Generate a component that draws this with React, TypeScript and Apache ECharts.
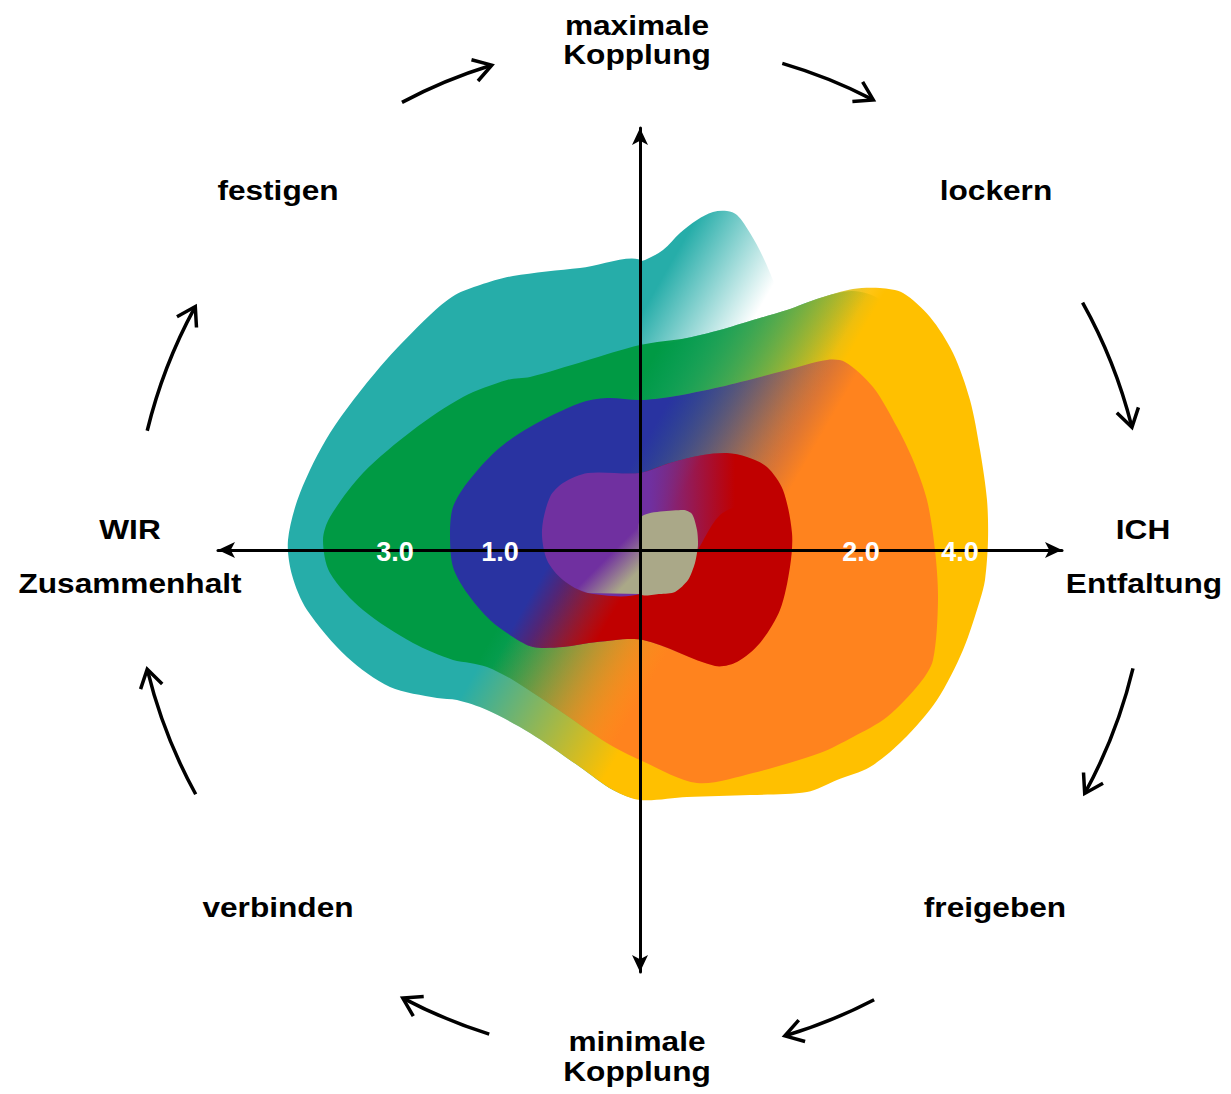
import React, { useEffect, useRef } from "react";
import * as echarts from "echarts";

// ---- shape outlines (x to the right, y upwards, units from the chart centre) ----
const bumpOutline = [[-12,284],[5,290],[23,300],[40,317],[57,330],[73,338],[87,339],[97,335],[110,317],[123,293],[135,265],[148,232],[100,218],[50,208],[-12,200]];
const tealOutline = [[3,288],[-60,282],[-127,274],[-160,265],[-185,255],[-210,235],[-260,183],[-310,117],[-340,57],[-352,10],[-348,-25],[-333,-60],[-293,-107],[-250,-137],[-203,-148],[-183,-150],[-153,-160],[-110,-183],[-60,-217],[-27,-240],[0,-249],[47,-241],[100,-230],[250,-120],[290,100],[280,200],[240,250],[213,259],[180,252],[147,240],[113,230],[80,220],[47,212],[3,205]];
const yellowOutline = [[0,205],[47,212],[80,220],[113,230],[147,240],[180,252],[213,261],[240,262],[263,257],[290,233],[313,197],[330,150],[340,100],[347,50],[348,10],[345,-30],[340,-50],[323,-100],[297,-150],[263,-190],[230,-217],[197,-230],[167,-242],[110,-245],[47,-247],[0,-250],[-27,-240],[-60,-217],[-110,-183],[-153,-160],[-183,-150],[-203,-148],[-220,-90],[-190,70],[-80,170]];
const greenOutline = [[0,205],[47,212],[80,220],[113,230],[147,240],[180,252],[213,261],[240,262],[263,257],[290,233],[313,197],[330,150],[320,-50],[140,-170],[57,-220],[3,-212],[-33,-193],[-77,-163],[-127,-130],[-153,-117],[-170,-113],[-187,-110],[-227,-93],[-277,-60],[-310,-23],[-317,10],[-310,33],[-277,77],[-227,120],[-177,153],[-133,170],[-110,173],[-55,189]];
const orangeOutline = [[0,150],[30,153],[80,163],[147,180],[187,190],[205,188],[233,163],[257,123],[273,90],[287,50],[295,0],[298,-50],[293,-110],[280,-133],[247,-167],[213,-187],[180,-203],[113,-223],[57,-233],[0,-210],[-33,-193],[-77,-163],[-127,-130],[-153,-117],[-170,-113],[-210,-70],[-200,50],[-120,120],[-40,145]];
const blueOutline = [[0,150],[30,153],[80,163],[147,180],[187,190],[205,188],[233,163],[240,130],[200,80],[160,50],[152,10],[145,-50],[120,-93],[97,-112],[73,-116],[3,-90],[-43,-92],[-77,-97],[-107,-97],[-127,-87],[-150,-70],[-173,-43],[-187,-17],[-190,17],[-187,43],[-173,67],[-143,100],[-110,123],[-60,147],[-33,152]];
const redOutline = [[0,77],[30,87],[63,95],[87,97],[107,93],[127,83],[143,60],[152,17],[150,-17],[140,-60],[120,-93],[97,-112],[75,-116],[3,-90],[-43,-92],[-77,-97],[-107,-97],[-127,-87],[-150,-70],[-170,-30],[-150,30],[-80,70],[-30,76]];
const purpleOutline = [[0,77],[-52,77],[-77,67],[-90,53],[-98,20],[-93,-10],[-77,-30],[-52,-43],[0,-44],[50,-10],[80,35],[120,55],[127,83],[107,93],[87,97],[63,95],[30,87]];
const beigeFadeOutline = [[0,30],[0,-44],[-52,-43],[-70,-36],[-40,0]];
const beigeOutline = [[1,33],[43,40],[52,36],[57,20],[58,5],[55,-13],[48,-30],[35,-42],[20,-44],[1,-44],[1,-5]];

// ---- value labels on the horizontal axis ----
const levelLabels = ["3.0", "1.0", "2.0", "4.0"];
const levelPositions = [-245, -140, 221, 320];

// ---- direction labels around the chart ----
const directionLabels = ["maximale", "Kopplung", "lockern", "ICH", "Entfaltung", "freigeben", "minimale", "Kopplung", "verbinden", "WIR", "Zusammenhalt", "festigen"];

// ---- cycle arrows (screen angles in degrees, clockwise) ----
const arrowFrom = [-118, -73.7, -29.2, 13.5, 62.5, 107.3, 151.2, 193.6];
const arrowTo = [-107, -62.6, -14, 28.7, 73.4, 117.9, 166.4, 208.7];
const arrowRadius = 507;

// ---- styles ----
const D30 = [0.866, 0.5];
const D45 = [0.7071, 0.7071];
const DH = [1, 0];
const layers = [
  { pts: bumpOutline, rgb: [38, 173, 169], mode: "out", dir: D30, r0: -117, r1: -17, smooth: 0.35 },
  { pts: tealOutline, rgb: [38, 173, 169], mode: "solid", smooth: 0.3 },
  { pts: yellowOutline, rgb: [255, 192, 0], mode: "in", dir: D30, r0: -82, r1: 83, smooth: 0.3 },
  { pts: greenOutline, rgb: [0, 154, 68], mode: "out", dir: D30, r0: -85, r1: 70, smooth: 0.3 },
  { pts: orangeOutline, rgb: [255, 131, 30], mode: "in", dir: D30, r0: -70, r1: 75, smooth: 0.3 },
  { pts: blueOutline, rgb: [41, 51, 161], mode: "out", dir: D30, r0: -50, r1: 100, smooth: 0.3 },
  { pts: redOutline, rgb: [192, 0, 0], mode: "in", dir: D30, r0: -72, r1: 8, smooth: 0.3 },
  { pts: purpleOutline, rgb: [112, 48, 160], mode: "out", dir: DH, r0: 10, r1: 95, smooth: 0.3 },
  { pts: beigeFadeOutline, rgb: [170, 168, 136], mode: "in", dir: D45, r0: -18, r1: 14, smooth: 0 },
  { pts: beigeOutline, rgb: [170, 168, 136], mode: "solid", smooth: 0.25 },
];

const FONT = '"Liberation Sans", Arial, Helvetica, sans-serif';
const labelPlacement = [
  [637, 25], [637, 54], [996, 190], [1143, 529], [1144, 583], [995, 907],
  [637, 1041], [637, 1071], [278, 907], [130, 529], [130, 583], [278, 190],
];

const rgba = (c: number[], a: number) => `rgba(${c[0]},${c[1]},${c[2]},${a})`;

export default function App() {
  const ref = useRef<HTMLDivElement>(null);
  useEffect(() => {
    if (!ref.current) return;
    const chart = echarts.init(ref.current, undefined, { renderer: "svg" });
    const axisCommon = {
      type: "value" as const,
      min: -422,
      max: 422,
      z: 5,
      axisLine: {
        onZero: true,
        symbol: ["arrow", "arrow"],
        symbolSize: [12, 17],
        lineStyle: { color: "#000", width: 3 },
      },
      axisTick: { show: false },
      axisLabel: { show: false },
      splitLine: { show: false },
    };
    chart.setOption({
      animation: false,
      backgroundColor: "#fff",
      grid: { left: 218, top: 128, width: 844, height: 844, outerBoundsMode: "none" },
      xAxis: axisCommon,
      yAxis: axisCommon,
      series: [
        {
          type: "custom",
          z: 2,
          clip: false,
          silent: true,
          data: layers.map(() => [0, 0]),
          renderItem: (params: any, api: any) => {
            const L: any = layers[params.dataIndex];
            const pts = L.pts.map((p: number[]) => api.coord(p));
            const c = api.coord([0, 0]);
            let fill: any;
            if (L.mode === "solid") {
              fill = rgba(L.rgb, 1);
            } else {
              const a0 = L.mode === "in" ? 0 : 1;
              fill = new echarts.graphic.LinearGradient(
                c[0] + L.dir[0] * L.r0,
                c[1] + L.dir[1] * L.r0,
                c[0] + L.dir[0] * L.r1,
                c[1] + L.dir[1] * L.r1,
                [
                  { offset: 0, color: rgba(L.rgb, a0) },
                  { offset: 1, color: rgba(L.rgb, 1 - a0) },
                ],
                true
              );
            }
            return {
              type: "polygon",
              shape: { points: pts, smooth: L.smooth },
              style: { fill, stroke: "none" },
              silent: true,
            };
          },
        },
        {
          type: "custom",
          z: 2,
          clip: false,
          silent: true,
          data: arrowFrom.map(() => [0, 0]),
          renderItem: (params: any, api: any) => {
            const i = params.dataIndex;
            const c = api.coord([0, 0]);
            const r = api.coord([arrowRadius, 0])[0] - c[0];
            const a0 = (arrowFrom[i] * Math.PI) / 180;
            const a1 = (arrowTo[i] * Math.PI) / 180;
            const tip = [c[0] + r * Math.cos(a1), c[1] + r * Math.sin(a1)];
            const back = Math.atan2(-Math.cos(a1), Math.sin(a1));
            const arm = 21;
            const sp = (32 * Math.PI) / 180;
            const p1 = [tip[0] + arm * Math.cos(back + sp), tip[1] + arm * Math.sin(back + sp)];
            const p2 = [tip[0] + arm * Math.cos(back - sp), tip[1] + arm * Math.sin(back - sp)];
            return {
              type: "group",
              children: [
                {
                  type: "arc",
                  shape: { cx: c[0], cy: c[1], r, startAngle: a0, endAngle: a1 - 1.2 / r, clockwise: true },
                  style: { stroke: "#000", lineWidth: 3.5, fill: "none" },
                },
                {
                  type: "polyline",
                  shape: { points: [p1, tip, p2] },
                  style: { stroke: "#000", lineWidth: 3.5, fill: "none", lineJoin: "miter" },
                },
              ],
            };
          },
        },
        {
          type: "custom",
          z: 6,
          clip: false,
          silent: true,
          data: levelPositions.map((x) => [x, 0]),
          renderItem: (params: any, api: any) => {
            const p = api.coord([api.value(0), api.value(1)]);
            return {
              type: "text",
              x: p[0],
              y: p[1] + 2,
              silent: true,
              style: {
                text: levelLabels[params.dataIndex],
                x: 0,
                y: 0,
                align: "center",
                verticalAlign: "middle",
                textAlign: "center",
                textVerticalAlign: "middle",
                font: `bold 27px ${FONT}`,
                fill: "#fff",
              },
            };
          },
        },
      ],
      graphic: directionLabels.map((t, i) => ({
        type: "text",
        x: labelPlacement[i][0],
        y: labelPlacement[i][1],
        scaleX: 1.13,
        silent: true,
        style: {
          text: t,
          x: 0,
          y: 0,
          textAlign: "center",
          textVerticalAlign: "middle",
          align: "center",
          verticalAlign: "middle",
          font: `bold 28px ${FONT}`,
          fill: "#000",
        },
      })),
    });
    return () => chart.dispose();
  }, []);
  return (
    <div
      ref={ref}
      style={{ position: "fixed", left: 0, top: 0, width: 1231, height: 1094, background: "#fff" }}
    />
  );
}
